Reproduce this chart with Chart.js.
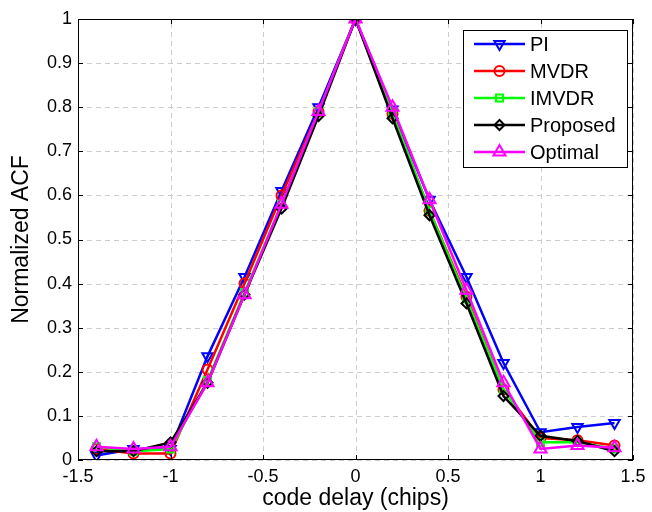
<!DOCTYPE html>
<html>
<head>
<meta charset="utf-8">
<script src="https://cdn.jsdelivr.net/npm/chart.js@4"></script>
<style>
  html, body { margin: 0; padding: 0; background: #fff; }
  #wrap { width: 652px; height: 512px; }
</style>
</head>
<body>
<div id="wrap"><canvas id="acfChart"></canvas></div>
<script>
const delays = [-1.4, -1.2, -1.0, -0.8, -0.6, -0.4, -0.2, 0, 0.2, 0.4, 0.6, 0.8, 1.0, 1.2, 1.4];

const piVals       = [0.010, 0.025, 0.025, 0.235, 0.415, 0.610, 0.800, 1.0, 0.795, 0.590, 0.415, 0.220, 0.063, 0.075, 0.084];
const mvdrVals     = [0.025, 0.015, 0.015, 0.205, 0.400, 0.600, 0.790, 1.0, 0.785, 0.565, 0.370, 0.160, 0.050, 0.045, 0.033];
const imvdrVals    = [0.030, 0.020, 0.025, 0.180, 0.380, 0.580, 0.790, 1.0, 0.785, 0.565, 0.365, 0.160, 0.040, 0.040, 0.025];
const proposedVals = [0.020, 0.020, 0.040, 0.175, 0.375, 0.570, 0.780, 1.0, 0.775, 0.555, 0.355, 0.145, 0.055, 0.043, 0.020];
const optimalVals  = [0.030, 0.025, 0.030, 0.175, 0.375, 0.580, 0.790, 1.0, 0.800, 0.590, 0.385, 0.175, 0.025, 0.033, 0.028];

const xTicks = [-1.5, -1, -0.5, 0, 0.5, 1, 1.5];
const yTicks = [0, 0.1, 0.2, 0.3, 0.4, 0.5, 0.6, 0.7, 0.8, 0.9, 1];

const FONT = "'Liberation Sans', Arial, sans-serif";
const CLEAR = 'rgba(0,0,0,0)';

function toPoints(vals) {
  return vals.map((v, i) => ({ x: delays[i], y: v }));
}

function series(label, vals, color, style, radius, rotation, order) {
  return {
    label: label,
    data: toPoints(vals),
    borderColor: color,
    backgroundColor: CLEAR,
    borderWidth: 2.5,
    pointStyle: style,
    pointRadius: radius,
    pointRotation: rotation,
    pointBorderWidth: 2,
    pointBorderColor: color,
    pointBackgroundColor: CLEAR,
    tension: 0,
    order: order
  };
}

// dashed grid under the lines
const dashedGrid = {
  id: 'dashedGrid',
  beforeDatasetsDraw(chart) {
    const c = chart.ctx;
    const a = chart.chartArea;
    const xs = chart.scales.x, ys = chart.scales.y;
    c.save();
    c.strokeStyle = '#cdcdcd';
    c.lineWidth = 1;
    c.setLineDash([5, 4]);
    c.beginPath();
    xTicks.forEach(t => {
      const px = Math.round(xs.getPixelForValue(t)) + 0.5;
      c.moveTo(px, a.bottom); c.lineTo(px, a.top);
    });
    yTicks.forEach(t => {
      const py = Math.round(ys.getPixelForValue(t)) + 0.5;
      c.moveTo(a.left, py); c.lineTo(a.right, py);
    });
    c.stroke();
    c.restore();
  }
};

// black box, inward ticks and the legend, drawn the MATLAB way
const matlabFrame = {
  id: 'matlabFrame',
  afterDraw(chart) {
    const c = chart.ctx;
    const a = chart.chartArea;
    const xs = chart.scales.x, ys = chart.scales.y;
    c.save();
    c.strokeStyle = '#000';
    c.lineWidth = 1;
    c.setLineDash([]);
    c.strokeRect(a.left + 0.5, a.top + 0.5, a.right - a.left - 1, a.bottom - a.top - 1);
    c.beginPath();
    xTicks.forEach(t => {
      const px = Math.round(xs.getPixelForValue(t)) + 0.5;
      c.moveTo(px, a.bottom); c.lineTo(px, a.bottom - 5);
      c.moveTo(px, a.top); c.lineTo(px, a.top + 5);
    });
    yTicks.forEach(t => {
      const py = Math.round(ys.getPixelForValue(t)) + 0.5;
      c.moveTo(a.left, py); c.lineTo(a.left + 5, py);
      c.moveTo(a.right, py); c.lineTo(a.right - 5, py);
    });
    c.stroke();

    // legend
    const bx = a.right - 170, by = a.top + 11, bw = 164, bh = 137;
    c.fillStyle = '#fff';
    c.fillRect(bx, by, bw, bh);
    c.strokeRect(bx + 0.5, by + 0.5, bw, bh);
    c.textBaseline = 'middle';
    chart.data.datasets.forEach((ds, i) => {
      const cy = by + 14 + i * 27;
      c.strokeStyle = ds.borderColor;
      c.lineWidth = 2.5;
      c.beginPath();
      c.moveTo(bx + 11, cy); c.lineTo(bx + 62, cy);
      c.stroke();
      c.fillStyle = CLEAR;
      c.lineWidth = 2;
      Chart.helpers.drawPoint(c, {
        pointStyle: ds.pointStyle,
        rotation: ds.pointRotation,
        radius: ds.pointRadius,
        borderWidth: 2
      }, bx + 36.5, cy);
      c.fillStyle = '#000';
      c.font = '20px ' + FONT;
      c.fillText(ds.label, bx + 67, cy + 1);
    });
    c.restore();
  }
};

new Chart(document.getElementById('acfChart').getContext('2d'), {
  type: 'line',
  data: {
    datasets: [
      series('PI', piVals, '#0000ff', 'triangle', 6, 180, 4),
      series('MVDR', mvdrVals, '#ff0000', 'circle', 5, 0, 3),
      series('IMVDR', imvdrVals, '#00ff00', 'rect', 5, 0, 2),
      series('Proposed', proposedVals, '#000000', 'rectRot', 5, 0, 1),
      series('Optimal', optimalVals, '#ff00ff', 'triangle', 7, 0, 0)
    ]
  },
  options: {
    responsive: true,
    maintainAspectRatio: false,
    animation: false,
    layout: { padding: { left: 8, right: 19, top: 19, bottom: 0 } },
    plugins: {
      legend: { display: false },
      tooltip: { enabled: false }
    },
    scales: {
      x: {
        type: 'linear',
        min: -1.5,
        max: 1.5,
        afterBuildTicks: s => { s.ticks = xTicks.map(v => ({ value: v })); },
        afterFit: s => { s.height = 52; },
        ticks: {
          color: '#000',
          font: { family: FONT, size: 18 },
          padding: 6,
          maxRotation: 0,
          callback: v => String(v)
        },
        grid: { display: false, drawTicks: false },
        border: { display: false },
        title: {
          display: true,
          text: 'code delay (chips)',
          color: '#000',
          font: { family: FONT, size: 23 },
          padding: { top: 0, bottom: 0 }
        }
      },
      y: {
        min: 0,
        max: 1,
        afterBuildTicks: s => { s.ticks = yTicks.map(v => ({ value: v })); },
        afterFit: s => { s.width = 70; },
        ticks: {
          color: '#000',
          font: { family: FONT, size: 18 },
          padding: 6,
          callback: v => String(v)
        },
        grid: { display: false, drawTicks: false },
        border: { display: false },
        title: {
          display: true,
          text: 'Normalized ACF',
          color: '#000',
          font: { family: FONT, size: 23 },
          padding: { top: 0, bottom: 4 }
        }
      }
    }
  },
  plugins: [dashedGrid, matlabFrame]
});
</script>
</body>
</html>
